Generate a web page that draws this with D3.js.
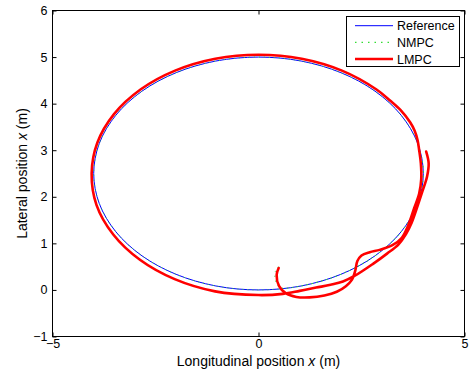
<!DOCTYPE html>
<html><head><meta charset="utf-8">
<script src="https://cdn.jsdelivr.net/npm/d3@7"></script>
<style>
body{margin:0;background:#fff}
text{font-family:"Liberation Sans",Arial,Helvetica,sans-serif;fill:#000}
</style>
</head><body>
<svg id="c" width="470" height="374"></svg>
<script>
// ---- data ----
const xTicks = [-5, 0, 5];
const yTicks = [-1, 0, 1, 2, 3, 4, 5, 6];
const seriesNames = ["Reference", "NMPC", "LMPC"];

// Reference path (ellipse-like loop)
const refX = [0, 1.035, 2.0, 2.828, 3.464, 3.864, 4.0, 3.864, 3.464, 2.828, 2.0, 1.035, 0, -1.035, -2.0, -2.828, -3.464, -3.864, -4.0, -3.864, -3.464, -2.828, -2.0, -1.035];
const refY = [0, 0.085, 0.335, 0.732, 1.25, 1.853, 2.5, 3.147, 3.75, 4.268, 4.665, 4.915, 5.0, 4.915, 4.665, 4.268, 3.75, 3.147, 2.5, 1.853, 1.25, 0.732, 0.335, 0.085];

// NMPC trajectory
const nmpcX = [0.48, 0.41, 0.40, 0.45, 0.56, 1.035, 2.0, 2.828, 3.464, 3.864, 4.0, 3.864, 3.464, 2.828, 2.0, 1.035, 0, -1.035, -2.0, -2.828, -3.464, -3.864, -4.0, -3.864, -3.464, -2.828, -2.0, -1.035, 0, 1.035, 2.0, 2.828, 3.464, 3.864, 4.0, 3.97];
const nmpcY = [0.50, 0.40, 0.26, 0.12, 0.045, 0.085, 0.335, 0.732, 1.25, 1.853, 2.5, 3.147, 3.75, 4.268, 4.665, 4.915, 5.0, 4.915, 4.665, 4.268, 3.75, 3.147, 2.5, 1.853, 1.25, 0.732, 0.335, 0.085, 0, 0.085, 0.335, 0.732, 1.25, 1.853, 2.5, 2.8];

// LMPC trajectory
const lmpcX = [0.49, 0.44, 0.50, 0.66, 0.92, 1.24, 1.60, 1.90, 2.12, 2.27, 2.35, 2.40, 2.50, 2.70, 2.94, 3.25, 3.48, 3.63, 3.78, 3.90, 3.95, 3.94, 3.90, 3.86, 3.79, 3.68, 3.45, 3.20, 2.864, 2.025, 1.048, 0, -1.048, -2.025, -2.864, -3.507, -3.912, -4.05, -3.931, -3.525, -2.878, -2.035, -1.053, 0, 0.59, 1.00, 1.40, 1.75, 2.05, 2.35, 2.78, 3.12, 3.40, 3.58, 3.72, 3.86, 3.98, 4.09, 4.13, 4.07];
const lmpcY = [0.47, 0.32, 0.08, -0.07, -0.15, -0.16, -0.12, -0.04, 0.08, 0.22, 0.42, 0.62, 0.74, 0.81, 0.86, 0.96, 1.12, 1.38, 1.76, 2.07, 2.38, 2.72, 3.00, 3.22, 3.42, 3.60, 3.86, 4.06, 4.303, 4.708, 4.963, 5.05, 4.963, 4.708, 4.303, 3.775, 3.160, 2.5, 1.822, 1.19, 0.647, 0.231, -0.031, -0.11, -0.085, -0.02, 0.05, 0.11, 0.18, 0.31, 0.56, 0.78, 0.98, 1.20, 1.45, 1.80, 2.12, 2.43, 2.72, 2.97];

// ---- chart ----
const svg = d3.select("#c");
const L = 52.5, R = 464.5, T = 10.5, B = 336.5;
const x = d3.scaleLinear().domain([-5, 5]).range([L, R]);
const y = d3.scaleLinear().domain([-1, 6]).range([B, T]);

const zip = (xs, ys) => xs.map((v, i) => [v, ys[i]]);
const line = d3.line().x(d => x(d[0])).y(d => y(d[1]));

svg.append("path")
  .attr("d", line.curve(d3.curveCatmullRomClosed.alpha(0.5))(zip(refX, refY)))
  .attr("fill", "none").attr("stroke", "#0000ff").attr("stroke-width", 1);

svg.append("path")
  .attr("d", line.curve(d3.curveCatmullRom.alpha(0.5))(zip(nmpcX, nmpcY)))
  .attr("fill", "none").attr("stroke", "#33dd33").attr("stroke-width", 1)
  .attr("stroke-dasharray", "1,4");

svg.append("path")
  .attr("d", line.curve(d3.curveCatmullRom.alpha(0.5))(zip(lmpcX, lmpcY)))
  .attr("fill", "none").attr("stroke", "#ff0000").attr("stroke-width", 2.6)
  .attr("stroke-linejoin", "round").attr("stroke-linecap", "round");

// axes
const fmt = d => (d < 0 ? "\u2212" + Math.abs(d) : String(d));
const fs = "12.5px";
const gB = svg.append("g").attr("transform", `translate(0,${B})`)
  .call(d3.axisBottom(x).tickValues(xTicks).tickSizeInner(-4).tickSizeOuter(0).tickPadding(3).tickFormat(fmt));
const gL = svg.append("g").attr("transform", `translate(${L},0)`)
  .call(d3.axisLeft(y).tickValues(yTicks).tickSizeInner(-4).tickSizeOuter(0).tickPadding(5).tickFormat(fmt));
const gT = svg.append("g").attr("transform", `translate(0,${T})`)
  .call(d3.axisTop(x).tickValues(xTicks).tickSizeInner(-4).tickSizeOuter(0).tickFormat(""));
const gR = svg.append("g").attr("transform", `translate(${R},0)`)
  .call(d3.axisRight(y).tickValues(yTicks).tickSizeInner(-4).tickSizeOuter(0).tickFormat(""));
[gB, gL, gT, gR].forEach(g => {
  g.select(".domain").remove();
  g.selectAll("line").attr("stroke", "#000");
  g.selectAll("text").attr("font-size", fs).attr("fill", "#000")
    .style("font-family", "'Liberation Sans',Arial,sans-serif");
});
svg.append("rect").attr("x", L).attr("y", T).attr("width", R - L).attr("height", B - T)
  .attr("fill", "none").attr("stroke", "#000").attr("stroke-width", 1);

// axis labels
const xl = svg.append("text").attr("x", (L + R) / 2).attr("y", 366)
  .attr("text-anchor", "middle").attr("font-size", "14px");
xl.append("tspan").text("Longitudinal position ");
xl.append("tspan").attr("font-style", "italic").text("x");
xl.append("tspan").text(" (m)");

const yl = svg.append("text").attr("transform", `translate(27,${(T + B) / 2}) rotate(-90)`)
  .attr("text-anchor", "middle").attr("font-size", "14px");
yl.append("tspan").text("Lateral position ");
yl.append("tspan").attr("font-style", "italic").text("x");
yl.append("tspan").text(" (m)");

// legend
const lg = svg.append("g");
lg.append("rect").attr("x", 346.5).attr("y", 16.5).attr("width", 113).attr("height", 50)
  .attr("fill", "#fff").attr("stroke", "#000").attr("stroke-width", 1);
const rowsY = [25.7, 42.3, 59];
const styles = [
  {c: "#0000ff", w: 1, d: null},
  {c: "#33dd33", w: 1.3, d: "1.5,5"},
  {c: "#ff0000", w: 2.6, d: null}
];
seriesNames.forEach((n, i) => {
  const l = lg.append("line").attr("x1", 355).attr("x2", 393).attr("y1", rowsY[i]).attr("y2", rowsY[i])
    .attr("stroke", styles[i].c).attr("stroke-width", styles[i].w);
  if (styles[i].d) l.attr("stroke-dasharray", styles[i].d);
  lg.append("text").attr("x", 397).attr("y", rowsY[i]).attr("dy", "0.36em")
    .attr("font-size", fs).text(n);
});
</script>
</body></html>
